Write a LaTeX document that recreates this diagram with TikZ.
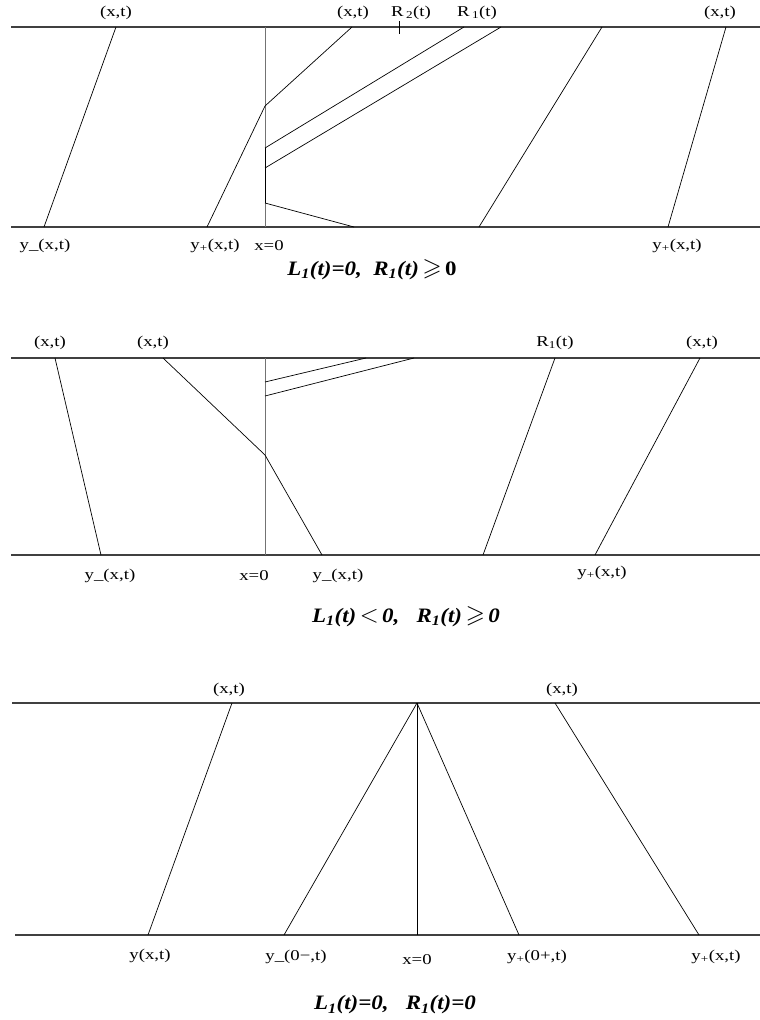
\documentclass[tikz,border=0pt]{standalone}
\usepackage{amssymb}
\usepackage{fontspec}
\setmainfont{Liberation Serif}
\newfontfamily\labfont[FakeStretch=1.25]{Liberation Serif}
\newfontfamily\capfont[FakeStretch=1.12]{Liberation Serif}
\newcommand{\bigrel}[1]{{\fontsize{25}{25}\selectfont$#1$}}
\tikzset{
  lab/.style={font=\labfont\fontsize{15}{17}\selectfont, inner sep=0pt, anchor=center},
  capt/.style={font=\capfont\fontsize{20.5}{24}\selectfont\bfseries\itshape, inner sep=0pt, anchor=center},
  axisline/.style={line width=1.2pt, black!75},
  ray/.style={line width=0.7pt, black},
  zeroline/.style={line width=1pt, black!55},
  tick/.style={line width=0.7pt, black}
}
\begin{document}
\begin{tikzpicture}[x=1pt,y=-1pt]
\useasboundingbox (0,0) rectangle (760,1020);
% ---------------- Panel 1 ----------------
\coordinate (p1tl) at (11,27);   \coordinate (p1tr) at (760,27);
\coordinate (p1bl) at (11,227);  \coordinate (p1br) at (760,227);
\coordinate (p1ot) at (265,27);  \coordinate (p1ob) at (265,227);
\coordinate (p1k) at (265,106);
\coordinate (p1c) at (265,148);  \coordinate (p1d) at (265,168);
\coordinate (p1e) at (265,203);
\draw[axisline] (p1tl) -- (p1tr);
\draw[axisline] (p1bl) -- (p1br);
\draw[zeroline] (p1ot) -- (p1ob);
\draw[ray] (p1c) -- (p1e);
\coordinate (p1a1) at (116,27);  \coordinate (p1a2) at (44,227);
\draw[ray] (p1a1) -- (p1a2);
\coordinate (p1b1) at (207,227); \coordinate (p1b2) at (352,27);
\draw[ray] (p1b1) -- (p1k) -- (p1b2);
\coordinate (p1c2) at (464,27);
\draw[ray] (p1c) -- (p1c2);
\coordinate (p1d2) at (501,27);
\draw[ray] (p1d) -- (p1d2);
\coordinate (p1e2) at (354,227);
\draw[ray] (p1e) -- (p1e2);
\coordinate (p1f1) at (479,227); \coordinate (p1f2) at (602,27);
\draw[ray] (p1f1) -- (p1f2);
\coordinate (p1g1) at (668,227); \coordinate (p1g2) at (726,27);
\draw[ray] (p1g1) -- (p1g2);
\coordinate (p1t1) at (399,21);  \coordinate (p1t2) at (399,34);
\draw[tick] (p1t1) -- (p1t2);
\node[lab] (l1a) at (116,13) {(x,t)};
\node[lab] (l1b) at (353,13) {(x,t)};
\node[lab] (l1c) at (411,13) {R\,\textsubscript{2}(t)};
\node[lab] (l1d) at (477,13) {R\,\textsubscript{1}(t)};
\node[lab] (l1e) at (720,13) {(x,t)};
\node[lab] (l1f) at (45,246) {y\_(x,t)};
\node[lab] (l1g) at (215,246) {y\textsubscript{+}(x,t)};
\node[lab] (l1h) at (269,246) {x=0};
\node[lab] (l1i) at (677,246) {y\textsubscript{+}(x,t)};
\node[capt] (c1) at (372,270) {L\textsubscript{1}(t)=0,\ \ R\textsubscript{1}(t)\,\bigrel{\geqslant}\,\textup{0}};
% ---------------- Panel 2 ----------------
\coordinate (p2tl) at (11,358);  \coordinate (p2tr) at (760,358);
\coordinate (p2bl) at (11,555);  \coordinate (p2br) at (760,555);
\coordinate (p2ot) at (265,358); \coordinate (p2ob) at (265,555);
\coordinate (p2k) at (265,455);
\coordinate (p2j) at (265,382);  \coordinate (p2m) at (265,396);
\draw[axisline] (p2tl) -- (p2tr);
\draw[axisline] (p2bl) -- (p2br);
\draw[zeroline] (p2ot) -- (p2ob);
\coordinate (p2h1) at (55,358);  \coordinate (p2h2) at (101,555);
\draw[ray] (p2h1) -- (p2h2);
\coordinate (p2i1) at (163,358); \coordinate (p2i2) at (322,555);
\draw[ray] (p2i1) -- (p2k) -- (p2i2);
\coordinate (p2j2) at (366,358);
\draw[ray] (p2j) -- (p2j2);
\coordinate (p2m2) at (414,358);
\draw[ray] (p2m) -- (p2m2);
\coordinate (p2l1) at (555,358); \coordinate (p2l2) at (483,555);
\draw[ray] (p2l1) -- (p2l2);
\coordinate (p2n1) at (700,358); \coordinate (p2n2) at (595,555);
\draw[ray] (p2n1) -- (p2n2);
\node[lab] (l2a) at (50,343) {(x,t)};
\node[lab] (l2b) at (153,343) {(x,t)};
\node[lab] (l2c) at (555,343) {R\textsubscript{1}(t)};
\node[lab] (l2d) at (702,343) {(x,t)};
\node[lab] (l2e) at (110,576) {y\_(x,t)};
\node[lab] (l2f) at (254,576) {x=0};
\node[lab] (l2g) at (338,576) {y\_(x,t)};
\node[lab] (l2h) at (602,573) {y\textsubscript{+}(x,t)};
\node[capt] (c2) at (406,617) {L\textsubscript{1}(t)\,\bigrel{<}\,0,\ \ \ R\textsubscript{1}(t)\,\bigrel{\geqslant}\,0};
% ---------------- Panel 3 ----------------
\coordinate (p3tl) at (12,703);  \coordinate (p3tr) at (760,703);
\coordinate (p3bl) at (15,935);  \coordinate (p3br) at (760,935);
\coordinate (p3ap) at (417,703); \coordinate (p3ob) at (417,935);
\draw[axisline] (p3tl) -- (p3tr);
\draw[axisline] (p3bl) -- (p3br);
\draw[ray] (p3ap) -- (p3ob);
\coordinate (p3n1) at (232,703); \coordinate (p3n2) at (148,935);
\draw[ray] (p3n1) -- (p3n2);
\coordinate (p3o2) at (284,935);
\draw[ray] (p3ap) -- (p3o2);
\coordinate (p3p2) at (519,935);
\draw[ray] (p3ap) -- (p3p2);
\coordinate (p3q1) at (555,703); \coordinate (p3q2) at (699,935);
\draw[ray] (p3q1) -- (p3q2);
\node[lab] (l3a) at (229,690) {(x,t)};
\node[lab] (l3b) at (562,690) {(x,t)};
\node[lab] (l3c) at (150,956) {y(x,t)};
\node[lab] (l3d) at (296,957) {y\_(0\textminus,t)};
\node[lab] (l3e) at (417,960) {x=0};
\node[lab] (l3f) at (537,957) {y\textsubscript{+}(0+,t)};
\node[lab] (l3g) at (716,957) {y\textsubscript{+}(x,t)};
\node[capt] (c3) at (395,1005) {L\textsubscript{1}(t)=0,\ \ \ R\textsubscript{1}(t)=0};
\end{tikzpicture}
\end{document}
